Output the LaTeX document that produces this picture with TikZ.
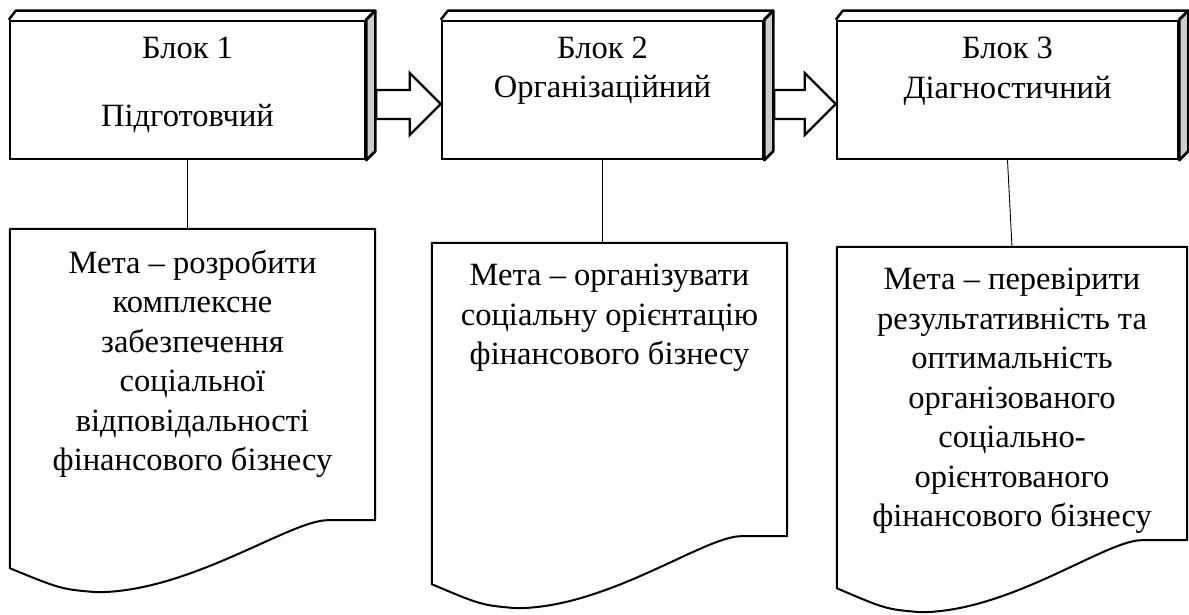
\documentclass[tikz,border=0pt]{standalone}
\usepackage{fontspec}
\setmainfont{Liberation Serif}
\usetikzlibrary{calc,positioning}

\tikzset{
  blok/.style={draw, line width=2.5pt, fill=white, inner sep=0pt},
  gran/.style={draw, line width=2.5pt, line join=round},
  strilka/.style={draw, line width=2.2pt, fill=white, line join=miter},
  dokument/.style={draw=none, inner sep=0pt},
  kontur/.style={draw, line width=2pt, line join=round},
  napys/.style={font=\fontsize{32.5}{39.5}\selectfont, inner sep=0pt},
  zv/.style={draw, line width=0.9pt}
}

\begin{document}
\begin{tikzpicture}[x=1pt, y=-1pt]
    % --- Configuration ---
    \def\dx{9}      % depth of the 3D boxes (x)
    \def\dy{9}      % depth of the 3D boxes (y)
    \def\hl{31}     % length of the arrow head
    \def\dl{72}     % dip of the wavy bottom
    \def\dm{48}     % left end of the wavy bottom

    \useasboundingbox (0,0) rectangle (1189,615);

    % --- Blocks (front faces) ---
    \node[blok, minimum width=355, minimum height=138] (blok1) at (187.5,90) {};
    \node[blok, minimum width=321, minimum height=138] (blok2) at (602.5,90) {};
    \node[blok, minimum width=341, minimum height=138] (blok3) at (1007.5,90) {};

    % --- Top and right faces ---
    \foreach \b in {blok1,blok2,blok3} {
        \draw[gran, fill=white] (\b.north west) -- ++(\dx-2,-\dy)
            -- ($(\b.north east)+(\dx,-\dy)$) -- (\b.north east);
        \draw[gran, fill=gray!40] (\b.north east) -- ++(\dx,-\dy)
            -- ($(\b.south east)+(\dx,-\dy)$) -- (\b.south east) -- cycle;
    }

    % --- Labels of the blocks ---
    \node[napys, anchor=base] (n1a) at ($(blok1.north)+(0,39)$) {Блок 1};
    \node[napys, anchor=base] (n1b) at ($(blok1.north)+(0,107)$) {Підготовчий};
    \node[napys, anchor=base] (n2a) at ($(blok2.north)+(0,39)$) {Блок 2};
    \node[napys, anchor=base] (n2b) at ($(blok2.north)+(0,78)$) {Організаційний};
    \node[napys, anchor=base] (n3a) at ($(blok3.north)+(0,39)$) {Блок 3};
    \node[napys, anchor=base] (n3b) at ($(blok3.north)+(0,79)$) {Діагностичний};

    % --- Block arrows between the blocks ---
    \foreach \a/\b in {blok1/blok2, blok2/blok3} {
        \draw[strilka] ($(\a.east)+(\dx+1,0)$) -- ($(\b.west)+(-\hl,0)$)
            -- ++(0,-17) -- ($(\b.west)+(0,14)$) -- ($(\b.west)+(-\hl,45)$)
            -- ++(0,-16) -- ($(\a.east)+(\dx+1,29)$) -- cycle;
    }

    % --- Documents (goals) ---
    \node[dokument, minimum width=365, minimum height=291] (dok1) at (192.5,374.5) {};
    \node[dokument, minimum width=355, minimum height=293] (dok2) at (609.5,389.5) {};
    \node[dokument, minimum width=350, minimum height=293] (dok3) at (1012,393.5) {};

    \foreach \d in {dok1,dok2,dok3} {
        \draw[kontur, fill=white] (\d.south west) -- (\d.north west) -- (\d.north east)
            -- (\d.south east) -- ($(\d.south west)!0.87!(\d.south east)$)
            .. controls ($(\d.south west)!0.767!(\d.south east)$)
            and ($(\d.south west)!0.493!(\d.south east)+(0,\dl)$)
            .. ($(\d.south west)!0.238!(\d.south east)+(0,\dl)$)
            .. controls ($(\d.south west)!0.14!(\d.south east)+(0,\dl-3)$)
            .. ($(\d.south west)+(0,\dm)$) -- cycle;
    }

    % --- Texts of the documents ---
    \node[napys, align=center, anchor=north] (m1) at ($(dok1.north)+(0,21)$)
        {Мета – розробити\\комплексне\\забезпечення\\соціальної\\відповідальності\\фінансового бізнесу};
    \node[napys, align=center, anchor=north] (m2) at ($(dok2.north)+(0,21)$)
        {Мета – організувати\\соціальну орієнтацію\\фінансового бізнесу};
    \node[napys, align=center, anchor=north] (m3) at ($(dok3.north)+(0,21)$)
        {Мета – перевірити\\результативність та\\оптимальність\\організованого\\соціально-\\орієнтованого\\фінансового бізнесу};

    % --- Connectors ---
    \draw[zv] (blok1.south) -- (blok1.south |- dok1.north);
    \draw[zv] (blok2.south) -- (blok2.south |- dok2.north);
    \draw[zv] (blok3.south) -- (dok3.north);

\end{tikzpicture}
\end{document}
